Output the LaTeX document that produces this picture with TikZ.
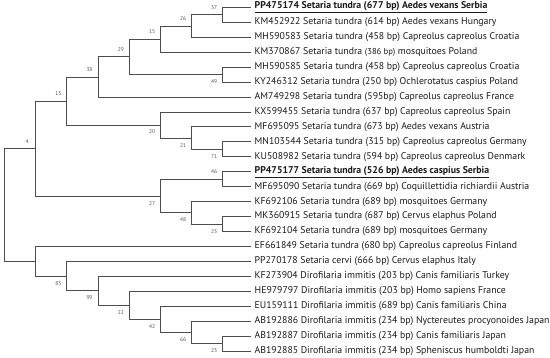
\documentclass[tikz,border=0pt]{standalone}
\usepackage{fontspec}
\setmainfont{PT Sans}
\usetikzlibrary{calc}
\definecolor{branch}{HTML}{4D4D4D}
\definecolor{taxon}{HTML}{1A1A1A}
\definecolor{bootgray}{HTML}{555555}

\begin{document}
\begin{tikzpicture}[x=1pt, y=-1pt,
  branchline/.style={branch, line width=0.9pt},
  taxonlabel/.style={text=taxon, anchor=west, inner xsep=3.5pt, inner ysep=1pt,
    font=\fontsize{9.8}{11}\selectfont},
  bootlabel/.style={text=bootgray, inner sep=0pt, font=\fontsize{5.5}{6}\selectfont}]

\useasboundingbox (0,0) rectangle (550,358);

% --- Taxa (tips of the tree) ---
\node[taxonlabel] (pp174) at (251,7.40)   {\underline{\textbf{PP475174 Setaria tundra (677 bp) Aedes vexans Serbia}}};
\node[taxonlabel] (km922) at (251,22.34)  {KM452922 Setaria tundra (614 bp) Aedes vexans Hungary};
\node[taxonlabel] (mh583) at (251,37.28)  {MH590583 Setaria tundra (458 bp) Capreolus capreolus Croatia};
\node[taxonlabel] (km867) at (251,52.22)  {KM370867 Setaria tundra {\fontsize{8.6}{10}\selectfont(386 bp)} mosquitoes Poland};
\node[taxonlabel] (mh585) at (251,67.16)  {MH590585 Setaria tundra (458 bp) Capreolus capreolus Croatia};
\node[taxonlabel] (ky312) at (251,82.10)  {KY246312 Setaria tundra (250 bp) Ochlerotatus caspius Poland};
\node[taxonlabel] (am298) at (251,97.04)  {AM749298 Setaria tundra (595bp) Capreolus capreolus France};
\node[taxonlabel] (kx455) at (251,111.98) {KX599455 Setaria tundra (637 bp) Capreolus capreolus Spain};
\node[taxonlabel] (mf095) at (251,126.92) {MF695095 Setaria tundra (673 bp) Aedes vexans Austria};
\node[taxonlabel] (mn544) at (251,141.86) {MN103544 Setaria tundra (315 bp) Capreolus capreolus Germany};
\node[taxonlabel] (ku982) at (251,156.80) {KU508982 Setaria tundra (594 bp) Capreolus capreolus Denmark};
\node[taxonlabel] (pp177) at (251,171.74) {\underline{\textbf{PP475177 Setaria tundra (526 bp) Aedes caspius Serbia}}};
\node[taxonlabel] (mf090) at (251,186.68) {MF695090 Setaria tundra (669 bp) Coquillettidia richiardii Austria};
\node[taxonlabel] (kf106) at (251,201.62) {KF692106 Setaria tundra (689 bp) mosquitoes Germany};
\node[taxonlabel] (mk915) at (251,216.56) {MK360915 Setaria tundra (687 bp) Cervus elaphus Poland};
\node[taxonlabel] (kf104) at (251,231.50) {KF692104 Setaria tundra (689 bp) mosquitoes Germany};
\node[taxonlabel] (ef849) at (251,246.44) {EF661849 Setaria tundra (680 bp) Capreolus capreolus Finland};
\node[taxonlabel] (pp178) at (251,261.38) {PP270178 Setaria cervi (666 bp) Cervus elaphus Italy};
\node[taxonlabel] (kf904) at (251,276.32) {KF273904 Dirofilaria immitis (203 bp) Canis familiaris Turkey};
\node[taxonlabel] (he797) at (251,291.26) {HE979797 Dirofilaria immitis (203 bp) Homo sapiens France};
\node[taxonlabel] (eu111) at (251,306.20) {EU159111 Dirofilaria immitis (689 bp) Canis familiaris China};
\node[taxonlabel] (ab886) at (251,321.14) {AB192886 Dirofilaria immitis (234 bp) Nyctereutes procyonoides Japan};
\node[taxonlabel] (ab887) at (251,336.08) {AB192887 Dirofilaria immitis (234 bp) Canis familiaris Japan};
\node[taxonlabel] (ab885) at (251,351.02) {AB192885 Dirofilaria immitis (234 bp) Spheniscus humboldti Japan};

% --- Internal nodes (x by depth, y midway between children) ---
\coordinate (a5) at (222.5,14.87);
\coordinate (a4) at (191.5,26.08);
\coordinate (a2) at (160.5,39.15);
\coordinate (a3) at (222.5,74.63);
\coordinate (a1) at (129.3,56.89);
\coordinate (a)  at (98.0,76.97);
\coordinate (b2) at (222.5,149.33);
\coordinate (b1) at (191.5,138.13);
\coordinate (b)  at (160.5,125.06);
\coordinate (u1) at (66.8,101.01);
\coordinate (c1) at (222.5,179.21);
\coordinate (c3) at (222.5,224.03);
\coordinate (c2) at (191.5,212.83);
\coordinate (u2) at (160.5,196.02);
\coordinate (u)  at (35.6,148.52);
\coordinate (d7) at (222.5,343.55);
\coordinate (d6) at (191.5,332.35);
\coordinate (d5) at (160.5,319.28);
\coordinate (d4) at (129.3,305.27);
\coordinate (d3) at (98.0,290.80);
\coordinate (d2) at (66.8,276.09);
\coordinate (d)  at (35.6,261.27);
\coordinate (root) at (4.3,204.90);

% --- Branches ---
\foreach \p/\c in {root/u, root/d,
    u/u1, u/u2, u1/a, u1/b,
    a/a1, a/am298.west, a1/a2, a1/a3, a2/a4, a2/km867.west,
    a4/a5, a4/mh583.west, a5/pp174.west, a5/km922.west,
    a3/mh585.west, a3/ky312.west,
    b/kx455.west, b/b1, b1/mf095.west, b1/b2, b2/mn544.west, b2/ku982.west,
    u2/c1, u2/c2, c1/pp177.west, c1/mf090.west,
    c2/kf106.west, c2/c3, c3/mk915.west, c3/kf104.west,
    d/ef849.west, d/d2, d2/pp178.west, d2/d3, d3/kf904.west, d3/d4,
    d4/he797.west, d4/d5, d5/eu111.west, d5/d6, d6/ab886.west, d6/d7,
    d7/ab887.west, d7/ab885.west}
  \draw[branchline] (\p) |- (\c);

% --- Bootstrap values (above upper children, below lower ones) ---
\foreach \n/\v/\dy in {a5/37/-7.2, a4/26/-7.2, a2/15/-7.2, a1/29/-7.2, a/38/-7.2,
    u1/15/-7.2, u/4/-7.2, a3/49/7.2, b/20/6.2, b1/21/7.2, b2/71/7.2,
    c1/46/-7.2, u2/27/7.2, c2/48/7.2, c3/23/7.2,
    d2/83/7.2, d3/99/7.2, d4/22/7.2, d5/42/7.2, d6/66/7.2, d7/23/7.2}
  \node[bootlabel] at ($(\n)+(-8.5,\dy)$) {\v};

\end{tikzpicture}
\end{document}
